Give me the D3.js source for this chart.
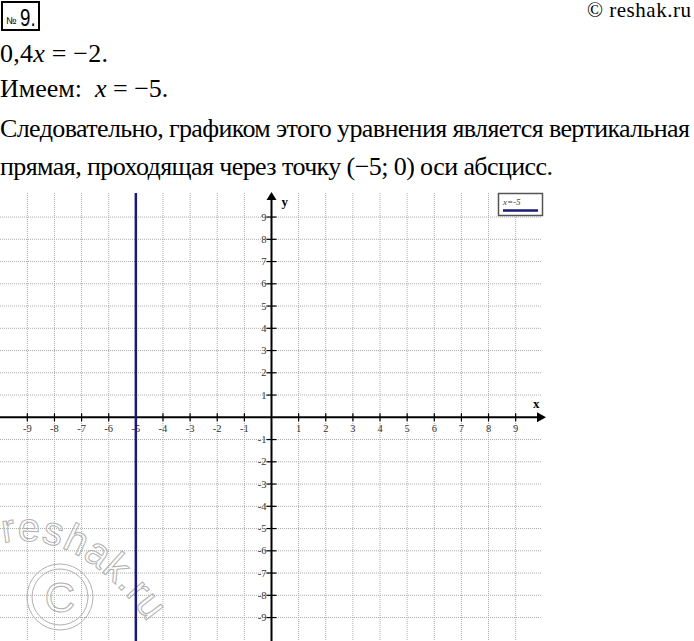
<!DOCTYPE html>
<html><head><meta charset="utf-8">
<script src="https://cdn.jsdelivr.net/npm/d3@7"></script>
<style>
html,body{margin:0;padding:0;background:#fff;}
svg{display:block;}
</style></head>
<body>
<svg id="chart" width="694" height="641"></svg>
<script>
// ---- data ----
const xTicks = [-9,-8,-7,-6,-5,-4,-3,-2,-1,1,2,3,4,5,6,7,8,9];
const yTicks = [-9,-8,-7,-6,-5,-4,-3,-2,-1,1,2,3,4,5,6,7,8,9];
const xDomain = [-10, 10];
const yDomain = [-10, 10];
const lineX = [-5];
const legendLabels = ["x=-5"];
const textLines = [
  "Следовательно, графиком этого уравнения является вертикальная",
  "прямая, проходящая через точку (−5; 0) оси абсцисс."
];

const SERIF = '"Liberation Serif", "Times New Roman", serif';
const SANS = '"Liberation Sans", Arial, sans-serif';
const svg = d3.select("#chart");

function txt(sel, family){ return sel.style("font-family", family); }

// ---- header text ----
svg.append("rect").attr("x",2).attr("y",2).attr("width",37).attr("height",28)
  .attr("fill","none").attr("stroke","#000").attr("stroke-width",2);
txt(svg.append("text"),SANS).attr("x",6).attr("y",24).attr("font-size",10).text("№");
txt(svg.append("text"),SANS).attr("transform","translate(20,25.5) scale(0.78,1)")
  .attr("font-size",24).text("9.");
txt(svg.append("text"),SERIF).attr("x",691).attr("y",17).attr("text-anchor","end")
  .attr("font-size",21).attr("textLength",104).attr("lengthAdjust","spacing").text("© reshak.ru");

const t1 = txt(svg.append("text"),SERIF).attr("x",0).attr("y",62).attr("font-size",26)
  .attr("textLength",108).attr("lengthAdjust","spacing");
t1.append("tspan").text("0,4");
t1.append("tspan").attr("font-style","italic").text("x");
t1.append("tspan").text(" = −2.");
const t2 = txt(svg.append("text"),SERIF).attr("x",0).attr("y",97).attr("font-size",26)
  .style("white-space","pre");
t2.append("tspan").text("Имеем:  ");
t2.append("tspan").attr("font-style","italic").text("x");
t2.append("tspan").text(" = −5.");
txt(svg.append("text"),SERIF).attr("x",0).attr("y",137).attr("font-size",26)
  .attr("textLength",690).attr("lengthAdjust","spacing").text(textLines[0]);
txt(svg.append("text"),SERIF).attr("x",0).attr("y",175).attr("font-size",26)
  .attr("textLength",553).attr("lengthAdjust","spacing").text(textLines[1]);

// ---- scales ----
const x = d3.scaleLinear().domain(xDomain).range([0.2, 542.8]);
const y = d3.scaleLinear().domain(yDomain).range([639.8, 194.8]);
const x0 = x(0), y0 = y(0);

// watermark
const wm = svg.append("g").attr("fill","none").attr("stroke","#b0b0b0").attr("stroke-width",1);
svg.append("defs").append("path").attr("id","wmPath").attr("d","M3,543 Q95,525 175,665");
txt(wm.append("text"),SANS).attr("font-size",40).attr("letter-spacing",1)
  .append("textPath").attr("href","#wmPath").text("reshak.ru");
wm.append("circle").attr("cx",60).attr("cy",597).attr("r",33);
wm.append("circle").attr("cx",60).attr("cy",597).attr("r",28);
txt(wm.append("text"),SANS).attr("x",60).attr("y",612).attr("text-anchor","middle")
  .attr("font-size",42).text("C");

const g = svg.append("g");

// grid
g.append("g").selectAll("line").data(xTicks).join("line")
  .attr("x1",d=>x(d)).attr("x2",d=>x(d)).attr("y1",193).attr("y2",641)
  .attr("stroke","#aaa").attr("stroke-width",1).attr("stroke-dasharray","1,1");
g.append("g").selectAll("line").data(yTicks).join("line")
  .attr("y1",d=>y(d)).attr("y2",d=>y(d)).attr("x1",0).attr("x2",542)
  .attr("stroke","#aaa").attr("stroke-width",1).attr("stroke-dasharray","1,1");

// axes lines
g.append("line").attr("x1",0).attr("x2",538).attr("y1",y0).attr("y2",y0).attr("stroke","#000").attr("stroke-width",2);
g.append("line").attr("x1",x0).attr("x2",x0).attr("y1",199).attr("y2",641).attr("stroke","#000").attr("stroke-width",2);
g.append("path").attr("d",`M${x0-5},${200} L${x0},${192} L${x0+5},${200} Z`).attr("fill","#000");
g.append("path").attr("d",`M${537},${y0-5} L${546},${y0} L${537},${y0+5} Z`).attr("fill","#000");

// ticks + labels
g.append("g").selectAll("line").data(xTicks).join("line")
  .attr("x1",d=>x(d)).attr("x2",d=>x(d)).attr("y1",y0-4).attr("y2",y0+4).attr("stroke","#000").attr("stroke-width",1.2);
g.append("g").selectAll("line").data(yTicks).join("line")
  .attr("y1",d=>y(d)).attr("y2",d=>y(d)).attr("x1",x0-5).attr("x2",x0+5).attr("stroke","#000").attr("stroke-width",1.2);
txt(g.append("g").selectAll("text").data(xTicks).join("text"),SERIF)
  .attr("x",d=>x(d)).attr("y",y0+15).attr("text-anchor","middle")
  .attr("font-size",10.5).attr("fill","#333").text(d=>d);
txt(g.append("g").selectAll("text").data(yTicks).join("text"),SERIF)
  .attr("x",x0-5).attr("y",d=>y(d)+3.5).attr("text-anchor","end")
  .attr("font-size",10.5).attr("fill","#333").text(d=>d);
txt(g.append("text"),SERIF).attr("x",x0+10).attr("y",206).attr("font-weight","bold")
  .attr("font-size",13).text("y");
txt(g.append("text"),SERIF).attr("x",533).attr("y",408).attr("font-weight","bold")
  .attr("font-size",13).text("x");

// the line x = -5
g.append("g").selectAll("line").data(lineX).join("line")
  .attr("x1",d=>x(d)).attr("x2",d=>x(d)).attr("y1",193).attr("y2",641)
  .attr("stroke","#1a1a78").attr("stroke-width",2.5);

// legend
const lg = g.append("g");
lg.append("rect").attr("x",498.5).attr("y",193.5).attr("width",44).attr("height",22)
  .attr("fill","#fff").attr("stroke","#555").attr("stroke-width",1.5);
txt(lg.selectAll("text").data(legendLabels).join("text"),SERIF).attr("x",503).attr("y",205)
  .attr("font-style","italic").attr("font-size",9).attr("fill","#444").text(d=>d);
lg.append("line").attr("x1",503).attr("x2",538).attr("y1",210.5).attr("y2",210.5)
  .attr("stroke","#1a1a78").attr("stroke-width",2.5);
</script>
</body></html>
